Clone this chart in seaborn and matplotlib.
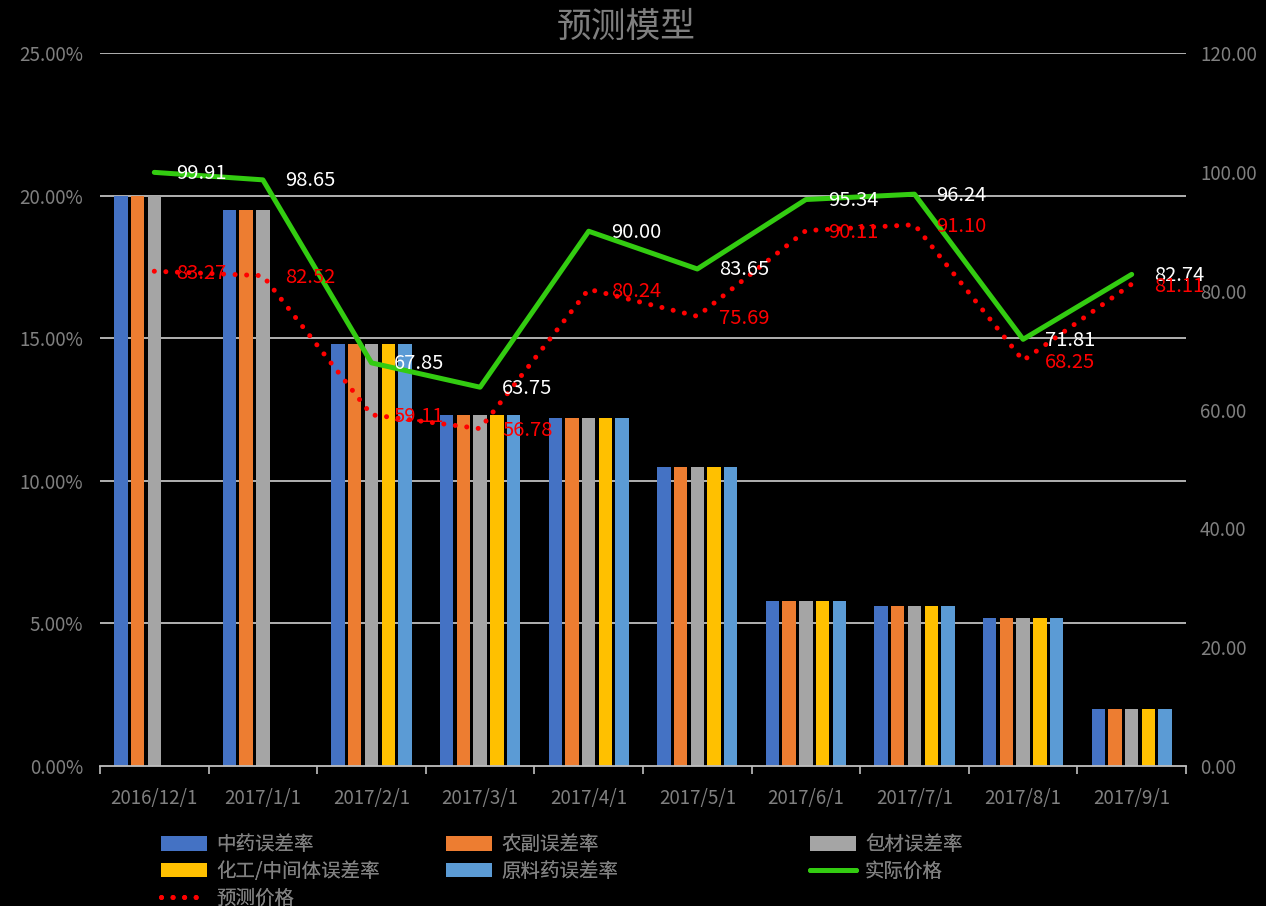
import numpy as np
import pandas as pd
import matplotlib
matplotlib.use('Agg')
import matplotlib.pyplot as plt
from matplotlib.ticker import FuncFormatter, FixedLocator
from matplotlib.patches import Patch
from matplotlib.lines import Line2D
import seaborn as sns

dates = ['2016/12/1', '2017/1/1', '2017/2/1', '2017/3/1', '2017/4/1',
         '2017/5/1', '2017/6/1', '2017/7/1', '2017/8/1', '2017/9/1']
series = ['中药误差率', '农副误差率', '包材误差率', '化工/中间体误差率', '原料药误差率']
# error rates in percent (first two months have no 化工 / 原料药 values)
zy = [20.0, 19.5, 14.8, 12.3, 12.2, 10.5, 5.8, 5.6, 5.2, 2.0]
nf = [20.0, 19.5, 14.8, 12.3, 12.2, 10.5, 5.8, 5.6, 5.2, 2.0]
bc = [20.0, 19.5, 14.8, 12.3, 12.2, 10.5, 5.8, 5.6, 5.2, 2.0]
hg = [np.nan, np.nan, 14.8, 12.3, 12.2, 10.5, 5.8, 5.6, 5.2, 2.0]
yl = [np.nan, np.nan, 14.8, 12.3, 12.2, 10.5, 5.8, 5.6, 5.2, 2.0]
actual = [99.91, 98.65, 67.85, 63.75, 90.00, 83.65, 95.34, 96.24, 71.81, 82.74]
predicted = [83.27, 82.52, 59.11, 56.78, 80.24, 75.69, 90.11, 91.10, 68.25, 81.11]

bar_colors = ['#4472C4', '#ED7D31', '#A5A5A5', '#FFC000', '#5B9BD5']
green = '#33CC11'
red = '#FF0000'
txt_gray = '#808080'
grid_gray = '#BFBFBF'

sns.set_style('dark')
plt.rcParams['font.family'] = ['Noto Sans CJK SC', 'DejaVu Sans']

rows = []
for name, vals in zip(series, [zy, nf, bc, hg, yl]):
    for d, v in zip(dates, vals):
        rows.append({'date': d, 'series': name, 'value': v})
df = pd.DataFrame(rows)

fig = plt.figure(figsize=(12.66, 9.06), dpi=100, facecolor='black')
ax = fig.add_axes([100/1266, 1-766/906, 1086/1266, 713/906])
ax.set_facecolor('black')

sns.barplot(data=df, x='date', y='value', hue='series', order=dates, hue_order=series,
            palette=bar_colors, saturation=1, width=0.77, gap=0.2, errorbar=None,
            linewidth=0, ax=ax, legend=False, zorder=2)

ax.set_ylim(0, 25)
ax.set_xlim(-0.5, len(dates) - 0.5)
ax.set_yticks([0, 5, 10, 15, 20, 25])
ax.yaxis.set_major_formatter(FuncFormatter(lambda v, p: f'{v:.2f}%'))
for yv in [5, 10, 15, 20, 25]:
    ax.axhline(yv, color=grid_gray, lw=1.3, zorder=1)
ax.grid(False)
ax.set_xlabel('')
ax.set_ylabel('')
for s in ['top', 'left', 'right']:
    ax.spines[s].set_visible(False)
ax.spines['bottom'].set_color(grid_gray)
ax.spines['bottom'].set_linewidth(1.3)
ax.xaxis.set_minor_locator(FixedLocator(np.arange(-0.5, len(dates), 1.0)))
ax.tick_params(axis='x', which='minor', length=6, width=1.2, color=grid_gray, direction='out', bottom=True)
ax.tick_params(axis='x', which='major', length=0, pad=16, labelsize=13.5, labelcolor=txt_gray)
ax.tick_params(axis='y', length=0, pad=12, labelsize=13.5, labelcolor=txt_gray)

ax2 = ax.twinx()
ax2.set_ylim(0, 120)
ax2.set_yticks(np.arange(0, 121, 20))
ax2.yaxis.set_major_formatter(FuncFormatter(lambda v, p: f'{v:.2f}'))
ax2.tick_params(axis='y', length=0, pad=10, labelsize=13.5, labelcolor=txt_gray)
for s in ax2.spines.values():
    s.set_visible(False)
ax2.grid(False)

x = np.arange(len(dates))
sns.lineplot(x=x, y=actual, ax=ax2, color=green, lw=3.6, zorder=4)
sns.lineplot(x=x, y=predicted, ax=ax2, color=red, lw=3.6, zorder=3,
             linestyle=(0, (0.01, 2.3)), dash_capstyle='round')
ax2.set_xlim(-0.5, len(dates) - 0.5)

for xi, v in zip(x, actual):
    ax2.annotate(f'{v:.2f}', (xi, v), xytext=(22, -1), textcoords='offset pixels',
                 color='white', fontsize=14.5, ha='left', va='center', zorder=6)
for xi, v in zip(x, predicted):
    ax2.annotate(f'{v:.2f}', (xi, v), xytext=(22, -2), textcoords='offset pixels',
                 color=red, fontsize=14.5, ha='left', va='center', zorder=6)

fig.suptitle('预测模型', x=626/1266, y=1-27/906, va='center', fontsize=25, color='#7f7f7f')

# legend laid out in three columns like the source chart
h = [Patch(facecolor=c, edgecolor='none') for c in bar_colors]
h_act = Line2D([], [], color=green, lw=3.6)
h_pred = Line2D([], [], color=red, lw=3.6, linestyle=(0, (0.01, 2.3)), dash_capstyle='round')
cols = [([h[0], h[3], h_pred], [series[0], series[3], '预测价格'], 161),
        ([h[1], h[4]], [series[1], series[4]], 446),
        ([h[2], h_act], [series[2], '实际价格'], 810)]
for hs, ls, px in cols:
    leg = fig.legend(hs, ls, loc='upper left', bbox_to_anchor=(px/1266, 1-834/906),
                     frameon=False, fontsize=14, labelcolor=txt_gray, handlelength=2.37,
                     handleheight=0.78, handletextpad=0.46, labelspacing=0.3,
                     borderpad=0, borderaxespad=0)
    fig.add_artist(leg)

fig.savefig('out.png', dpi=100, facecolor='black')
